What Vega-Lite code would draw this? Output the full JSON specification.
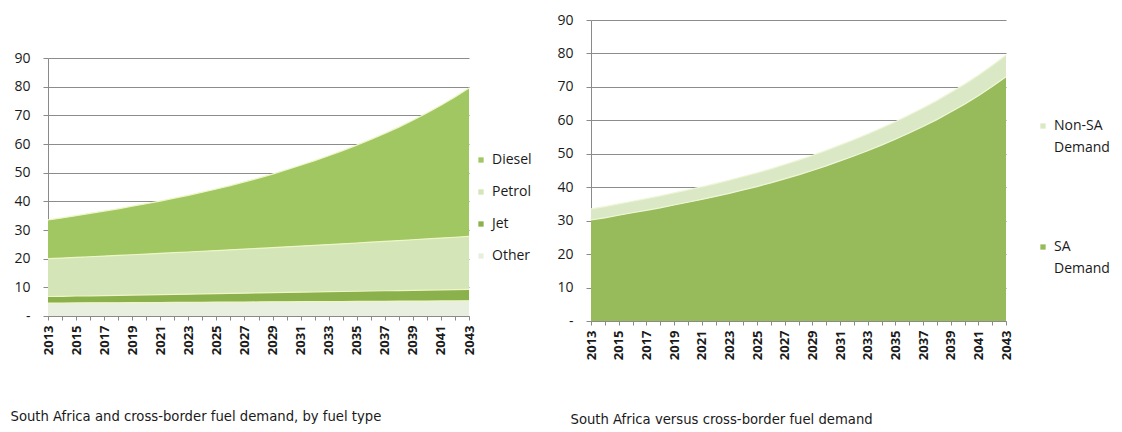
{
  "$schema": "https://vega.github.io/schema/vega-lite/v6.json",
  "background": "white",
  "padding": {"left": 10, "top": 13, "right": 0, "bottom": 0},
  "spacing": 24,
  "config": {
    "view": {"stroke": null},
    "font": "Open Sans",
    "axis": {
      "domainColor": "#8a8a8a",
      "tickColor": "#8a8a8a",
      "gridColor": "#8c8c8c",
      "labelColor": "#1a1a1a",
      "labelFont": "Open Sans",
      "titleColor": "#1a1a1a"
    },
    "legend": {
      "labelFont": "Open Sans",
      "labelFontSize": 14,
      "labelColor": "#1a1a1a",
      "symbolType": "square",
      "symbolSize": 28,
      "symbolStrokeWidth": 0,
      "padding": 0,
      "labelOffset": 4
    }
  },
  "datasets": {
    "fuelType": [
      {"year": 2013, "fuel": "Diesel", "value": 13.50}, {"year": 2013, "fuel": "Petrol", "value": 13.20}, {"year": 2013, "fuel": "Jet", "value": 2.30}, {"year": 2013, "fuel": "Other", "value": 4.50},
      {"year": 2014, "fuel": "Diesel", "value": 13.98}, {"year": 2014, "fuel": "Petrol", "value": 13.34}, {"year": 2014, "fuel": "Jet", "value": 2.35}, {"year": 2014, "fuel": "Other", "value": 4.53},
      {"year": 2015, "fuel": "Diesel", "value": 14.55}, {"year": 2015, "fuel": "Petrol", "value": 13.48}, {"year": 2015, "fuel": "Jet", "value": 2.42}, {"year": 2015, "fuel": "Other", "value": 4.55},
      {"year": 2016, "fuel": "Diesel", "value": 15.13}, {"year": 2016, "fuel": "Petrol", "value": 13.62}, {"year": 2016, "fuel": "Jet", "value": 2.47}, {"year": 2016, "fuel": "Other", "value": 4.58},
      {"year": 2017, "fuel": "Diesel", "value": 15.70}, {"year": 2017, "fuel": "Petrol", "value": 13.77}, {"year": 2017, "fuel": "Jet", "value": 2.52}, {"year": 2017, "fuel": "Other", "value": 4.61},
      {"year": 2018, "fuel": "Diesel", "value": 16.27}, {"year": 2018, "fuel": "Petrol", "value": 13.91}, {"year": 2018, "fuel": "Jet", "value": 2.59}, {"year": 2018, "fuel": "Other", "value": 4.63},
      {"year": 2019, "fuel": "Diesel", "value": 16.93}, {"year": 2019, "fuel": "Petrol", "value": 14.07}, {"year": 2019, "fuel": "Jet", "value": 2.64}, {"year": 2019, "fuel": "Other", "value": 4.66},
      {"year": 2020, "fuel": "Diesel", "value": 17.60}, {"year": 2020, "fuel": "Petrol", "value": 14.22}, {"year": 2020, "fuel": "Jet", "value": 2.69}, {"year": 2020, "fuel": "Other", "value": 4.69},
      {"year": 2021, "fuel": "Diesel", "value": 18.26}, {"year": 2021, "fuel": "Petrol", "value": 14.37}, {"year": 2021, "fuel": "Jet", "value": 2.76}, {"year": 2021, "fuel": "Other", "value": 4.71},
      {"year": 2022, "fuel": "Diesel", "value": 19.01}, {"year": 2022, "fuel": "Petrol", "value": 14.54}, {"year": 2022, "fuel": "Jet", "value": 2.81}, {"year": 2022, "fuel": "Other", "value": 4.74},
      {"year": 2023, "fuel": "Diesel", "value": 19.77}, {"year": 2023, "fuel": "Petrol", "value": 14.70}, {"year": 2023, "fuel": "Jet", "value": 2.86}, {"year": 2023, "fuel": "Other", "value": 4.77},
      {"year": 2024, "fuel": "Diesel", "value": 20.62}, {"year": 2024, "fuel": "Petrol", "value": 14.86}, {"year": 2024, "fuel": "Jet", "value": 2.93}, {"year": 2024, "fuel": "Other", "value": 4.79},
      {"year": 2025, "fuel": "Diesel", "value": 21.47}, {"year": 2025, "fuel": "Petrol", "value": 15.03}, {"year": 2025, "fuel": "Jet", "value": 2.98}, {"year": 2025, "fuel": "Other", "value": 4.82},
      {"year": 2026, "fuel": "Diesel", "value": 22.42}, {"year": 2026, "fuel": "Petrol", "value": 15.20}, {"year": 2026, "fuel": "Jet", "value": 3.03}, {"year": 2026, "fuel": "Other", "value": 4.85},
      {"year": 2027, "fuel": "Diesel", "value": 23.47}, {"year": 2027, "fuel": "Petrol", "value": 15.36}, {"year": 2027, "fuel": "Jet", "value": 3.10}, {"year": 2027, "fuel": "Other", "value": 4.87},
      {"year": 2028, "fuel": "Diesel", "value": 24.51}, {"year": 2028, "fuel": "Petrol", "value": 15.54}, {"year": 2028, "fuel": "Jet", "value": 3.15}, {"year": 2028, "fuel": "Other", "value": 4.90},
      {"year": 2029, "fuel": "Diesel", "value": 25.65}, {"year": 2029, "fuel": "Petrol", "value": 15.72}, {"year": 2029, "fuel": "Jet", "value": 3.20}, {"year": 2029, "fuel": "Other", "value": 4.93},
      {"year": 2030, "fuel": "Diesel", "value": 26.88}, {"year": 2030, "fuel": "Petrol", "value": 15.90}, {"year": 2030, "fuel": "Jet", "value": 3.27}, {"year": 2030, "fuel": "Other", "value": 4.95},
      {"year": 2031, "fuel": "Diesel", "value": 28.22}, {"year": 2031, "fuel": "Petrol", "value": 16.08}, {"year": 2031, "fuel": "Jet", "value": 3.32}, {"year": 2031, "fuel": "Other", "value": 4.98},
      {"year": 2032, "fuel": "Diesel", "value": 29.55}, {"year": 2032, "fuel": "Petrol", "value": 16.27}, {"year": 2032, "fuel": "Jet", "value": 3.37}, {"year": 2032, "fuel": "Other", "value": 5.01},
      {"year": 2033, "fuel": "Diesel", "value": 30.98}, {"year": 2033, "fuel": "Petrol", "value": 16.45}, {"year": 2033, "fuel": "Jet", "value": 3.44}, {"year": 2033, "fuel": "Other", "value": 5.03},
      {"year": 2034, "fuel": "Diesel", "value": 32.51}, {"year": 2034, "fuel": "Petrol", "value": 16.64}, {"year": 2034, "fuel": "Jet", "value": 3.49}, {"year": 2034, "fuel": "Other", "value": 5.06},
      {"year": 2035, "fuel": "Diesel", "value": 34.13}, {"year": 2035, "fuel": "Petrol", "value": 16.84}, {"year": 2035, "fuel": "Jet", "value": 3.54}, {"year": 2035, "fuel": "Other", "value": 5.09},
      {"year": 2036, "fuel": "Diesel", "value": 35.85}, {"year": 2036, "fuel": "Petrol", "value": 17.03}, {"year": 2036, "fuel": "Jet", "value": 3.61}, {"year": 2036, "fuel": "Other", "value": 5.11},
      {"year": 2037, "fuel": "Diesel", "value": 37.67}, {"year": 2037, "fuel": "Petrol", "value": 17.23}, {"year": 2037, "fuel": "Jet", "value": 3.66}, {"year": 2037, "fuel": "Other", "value": 5.14},
      {"year": 2038, "fuel": "Diesel", "value": 39.59}, {"year": 2038, "fuel": "Petrol", "value": 17.43}, {"year": 2038, "fuel": "Jet", "value": 3.71}, {"year": 2038, "fuel": "Other", "value": 5.17},
      {"year": 2039, "fuel": "Diesel", "value": 41.70}, {"year": 2039, "fuel": "Petrol", "value": 17.63}, {"year": 2039, "fuel": "Jet", "value": 3.78}, {"year": 2039, "fuel": "Other", "value": 5.19},
      {"year": 2040, "fuel": "Diesel", "value": 43.91}, {"year": 2040, "fuel": "Petrol", "value": 17.84}, {"year": 2040, "fuel": "Jet", "value": 3.83}, {"year": 2040, "fuel": "Other", "value": 5.22},
      {"year": 2041, "fuel": "Diesel", "value": 46.32}, {"year": 2041, "fuel": "Petrol", "value": 18.05}, {"year": 2041, "fuel": "Jet", "value": 3.88}, {"year": 2041, "fuel": "Other", "value": 5.25},
      {"year": 2042, "fuel": "Diesel", "value": 48.93}, {"year": 2042, "fuel": "Petrol", "value": 18.25}, {"year": 2042, "fuel": "Jet", "value": 3.95}, {"year": 2042, "fuel": "Other", "value": 5.27},
      {"year": 2043, "fuel": "Diesel", "value": 51.73}, {"year": 2043, "fuel": "Petrol", "value": 18.47}, {"year": 2043, "fuel": "Jet", "value": 4.00}, {"year": 2043, "fuel": "Other", "value": 5.30}
    ],
    "origin": [
      {"year": 2013, "origin": "SA Demand", "value": 30.20}, {"year": 2013, "origin": "Non-SA Demand", "value": 3.30},
      {"year": 2014, "origin": "SA Demand", "value": 30.86}, {"year": 2014, "origin": "Non-SA Demand", "value": 3.34},
      {"year": 2015, "origin": "SA Demand", "value": 31.61}, {"year": 2015, "origin": "Non-SA Demand", "value": 3.39},
      {"year": 2016, "origin": "SA Demand", "value": 32.36}, {"year": 2016, "origin": "Non-SA Demand", "value": 3.44},
      {"year": 2017, "origin": "SA Demand", "value": 33.10}, {"year": 2017, "origin": "Non-SA Demand", "value": 3.50},
      {"year": 2018, "origin": "SA Demand", "value": 33.84}, {"year": 2018, "origin": "Non-SA Demand", "value": 3.56},
      {"year": 2019, "origin": "SA Demand", "value": 34.68}, {"year": 2019, "origin": "Non-SA Demand", "value": 3.62},
      {"year": 2020, "origin": "SA Demand", "value": 35.51}, {"year": 2020, "origin": "Non-SA Demand", "value": 3.69},
      {"year": 2021, "origin": "SA Demand", "value": 36.34}, {"year": 2021, "origin": "Non-SA Demand", "value": 3.76},
      {"year": 2022, "origin": "SA Demand", "value": 37.26}, {"year": 2022, "origin": "Non-SA Demand", "value": 3.84},
      {"year": 2023, "origin": "SA Demand", "value": 38.18}, {"year": 2023, "origin": "Non-SA Demand", "value": 3.92},
      {"year": 2024, "origin": "SA Demand", "value": 39.19}, {"year": 2024, "origin": "Non-SA Demand", "value": 4.01},
      {"year": 2025, "origin": "SA Demand", "value": 40.20}, {"year": 2025, "origin": "Non-SA Demand", "value": 4.10},
      {"year": 2026, "origin": "SA Demand", "value": 41.31}, {"year": 2026, "origin": "Non-SA Demand", "value": 4.19},
      {"year": 2027, "origin": "SA Demand", "value": 42.51}, {"year": 2027, "origin": "Non-SA Demand", "value": 4.29},
      {"year": 2028, "origin": "SA Demand", "value": 43.70}, {"year": 2028, "origin": "Non-SA Demand", "value": 4.40},
      {"year": 2029, "origin": "SA Demand", "value": 45.00}, {"year": 2029, "origin": "Non-SA Demand", "value": 4.50},
      {"year": 2030, "origin": "SA Demand", "value": 46.38}, {"year": 2030, "origin": "Non-SA Demand", "value": 4.62},
      {"year": 2031, "origin": "SA Demand", "value": 47.87}, {"year": 2031, "origin": "Non-SA Demand", "value": 4.73},
      {"year": 2032, "origin": "SA Demand", "value": 49.35}, {"year": 2032, "origin": "Non-SA Demand", "value": 4.85},
      {"year": 2033, "origin": "SA Demand", "value": 50.92}, {"year": 2033, "origin": "Non-SA Demand", "value": 4.98},
      {"year": 2034, "origin": "SA Demand", "value": 52.59}, {"year": 2034, "origin": "Non-SA Demand", "value": 5.11},
      {"year": 2035, "origin": "SA Demand", "value": 54.36}, {"year": 2035, "origin": "Non-SA Demand", "value": 5.24},
      {"year": 2036, "origin": "SA Demand", "value": 56.22}, {"year": 2036, "origin": "Non-SA Demand", "value": 5.38},
      {"year": 2037, "origin": "SA Demand", "value": 58.17}, {"year": 2037, "origin": "Non-SA Demand", "value": 5.53},
      {"year": 2038, "origin": "SA Demand", "value": 60.22}, {"year": 2038, "origin": "Non-SA Demand", "value": 5.68},
      {"year": 2039, "origin": "SA Demand", "value": 62.47}, {"year": 2039, "origin": "Non-SA Demand", "value": 5.83},
      {"year": 2040, "origin": "SA Demand", "value": 64.82}, {"year": 2040, "origin": "Non-SA Demand", "value": 5.98},
      {"year": 2041, "origin": "SA Demand", "value": 67.36}, {"year": 2041, "origin": "Non-SA Demand", "value": 6.14},
      {"year": 2042, "origin": "SA Demand", "value": 70.09}, {"year": 2042, "origin": "Non-SA Demand", "value": 6.31},
      {"year": 2043, "origin": "SA Demand", "value": 73.02}, {"year": 2043, "origin": "Non-SA Demand", "value": 6.48}
    ]
  },
  "resolve": {"scale": {"color": "independent"}},
  "hconcat": [
    {
      "width": 421,
      "height": 296,
      "data": {"name": "fuelType"},
      "transform": [
        {"calculate": "indexof(['Other', 'Jet', 'Petrol', 'Diesel'], datum.fuel)", "as": "stackRank"}
      ],
      "mark": {"type": "area", "opacity": 1, "line": {"stroke": "#eef6c8", "strokeWidth": 1.2}},
      "encoding": {
        "x": {
          "field": "year",
          "type": "quantitative",
          "scale": {"domain": [2013, 2043], "nice": false, "zero": false},
          "axis": {
            "values": [2013, 2014, 2015, 2016, 2017, 2018, 2019, 2020, 2021, 2022, 2023, 2024, 2025, 2026, 2027, 2028, 2029, 2030, 2031, 2032, 2033, 2034, 2035, 2036, 2037, 2038, 2039, 2040, 2041, 2042, 2043],
            "labelExpr": "(datum.value - 2013) % 2 == 0 ? '' + datum.value : ''",
            "labelAngle": -90,
            "labelFontSize": 13,
            "labelFontWeight": "bold",
            "labelOverlap": false,
            "labelPadding": 5,
            "tickSize": 4,
            "grid": false,
            "title": "South Africa and cross-border  fuel demand, by fuel type",
            "titleFont": "Liberation Sans Narrow, DejaVu Sans Condensed, sans-serif",
            "titleFontSize": 14.7,
            "titleFontWeight": "normal",
            "titleAlign": "left",
            "titleX": -38,
            "titlePadding": 54
          }
        },
        "y": {
          "field": "value",
          "type": "quantitative",
          "stack": "zero",
          "scale": {"domain": [0, 90], "nice": false, "range": [296, 38]},
          "axis": {
            "values": [0, 10, 20, 30, 40, 50, 60, 70, 80, 90],
            "labelExpr": "datum.value == 0 ? '-' : datum.label",
            "labelFontSize": 14,
            "labelPadding": 13,
            "tickSize": 5,
            "grid": true,
            "title": null
          }
        },
        "order": {"field": "stackRank", "type": "quantitative"},
        "color": {
          "field": "fuel",
          "type": "nominal",
          "scale": {"domain": ["Diesel", "Petrol", "Jet", "Other"], "range": ["#a1c762", "#d4e5b7", "#8bb14c", "#e8efdf"]},
          "legend": {"title": null, "orient": "none", "legendX": 426, "legendY": 133, "rowPadding": 18}
        }
      }
    },
    {
      "width": 415,
      "height": 301,
      "data": {"name": "origin"},
      "mark": {"type": "area", "opacity": 1, "line": {"stroke": "#eef6d8", "strokeWidth": 1.2}},
      "encoding": {
        "x": {
          "field": "year",
          "type": "quantitative",
          "scale": {"domain": [2013, 2043], "nice": false, "zero": false},
          "axis": {
            "values": [2013, 2014, 2015, 2016, 2017, 2018, 2019, 2020, 2021, 2022, 2023, 2024, 2025, 2026, 2027, 2028, 2029, 2030, 2031, 2032, 2033, 2034, 2035, 2036, 2037, 2038, 2039, 2040, 2041, 2042, 2043],
            "labelExpr": "(datum.value - 2013) % 2 == 0 ? '' + datum.value : ''",
            "labelAngle": -90,
            "labelFontSize": 13,
            "labelFontWeight": "bold",
            "labelOverlap": false,
            "labelPadding": 5,
            "tickSize": 4,
            "grid": false,
            "title": "South Africa versus cross-border fuel demand",
            "titleFont": "Liberation Sans Narrow, DejaVu Sans Condensed, sans-serif",
            "titleFontSize": 14.7,
            "titleFontWeight": "normal",
            "titleAlign": "left",
            "titleX": -21,
            "titlePadding": 52
          }
        },
        "y": {
          "field": "value",
          "type": "quantitative",
          "stack": "zero",
          "scale": {"domain": [0, 90], "nice": false},
          "axis": {
            "values": [0, 10, 20, 30, 40, 50, 60, 70, 80, 90],
            "labelExpr": "datum.value == 0 ? '-' : datum.label",
            "labelFontSize": 14,
            "labelPadding": 13,
            "tickSize": 5,
            "grid": true,
            "title": null
          }
        },
        "color": {
          "field": "origin",
          "type": "nominal",
          "scale": {"domain": ["Non-SA Demand", "SA Demand"], "range": ["#dbe8c5", "#97ba5a"]},
          "legend": {
            "title": null,
            "orient": "none",
            "legendX": 445,
            "legendY": 99,
            "rowPadding": 85,
            "labelExpr": "split(datum.label, ' ')",
            "encode": {"labels": {"update": {"lineHeight": {"value": 22}}}}
          }
        }
      }
    }
  ]
}
